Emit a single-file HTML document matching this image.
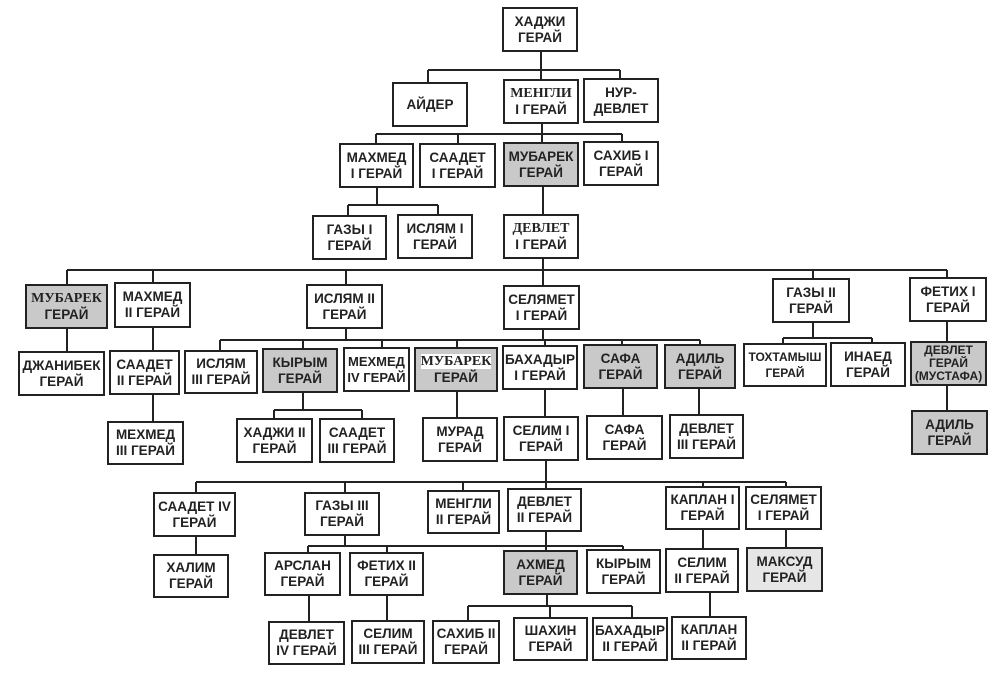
<!DOCTYPE html>
<html><head><meta charset="utf-8"><style>
body{margin:0;width:1000px;height:678px;background:#fff;position:relative;overflow:hidden;font-family:"Liberation Sans",sans-serif}
.b{position:absolute;box-sizing:border-box;border:2px solid #222;background:#fff;display:flex;align-items:center;justify-content:center;text-align:center;font-weight:bold;font-size:13.5px;line-height:16px;color:#222;white-space:nowrap}
.g{background:#c9c9c9}
.s{font-family:"Liberation Serif",serif;font-size:14px}
svg{position:absolute;left:0;top:0}
</style></head><body>
<svg width="1000" height="678" stroke="#222" stroke-width="2" fill="none">
<path d="M541 52V70M428 70H620M428 70V82M541 70V79M620 70V78"/>
<path d="M542 124V134M376 134H622M376 134V143M458 134V143M542 134V142M622 134V141"/>
<path d="M377 188V205M348 205H438M348 205V215M438 205V214M543 187V214"/>
<path d="M543 259V270M67 270H947M67 270V284M153 270V282M346 270V284M543 270V285M813 270V278M947 270V277"/>
<path d="M67 329V351M153 328V350M346 329V340M543 330V340M220 340H700M220 340V350M303 340V348M382 340V347M457 340V347M545 340V345M622 340V344M700 340V344"/>
<path d="M813 323V338M783 338H872M783 338V343M872 338V342M947 322V341"/>
<path d="M153 395V421M303 393V410M274 410H362M274 410V418M362 410V418M457 392V417M545 390V416M623 389V415M699 389V414M947 386V410"/>
<path d="M546 461V482M196 482H786M196 482V492M345 482V492M463 482V490M546 482V488M703 482V486M786 482V486"/>
<path d="M196 537V554M345 536V546M546 532V546M308 546H623M308 546V552M387 546V552M546 546V550M623 546V549M703 530V548M786 530V547"/>
<path d="M309 596V621M387 596V620M547 595V606M468 606H632M468 606V620M550 606V617M632 606V617M710 593V616"/>
</svg>
<div class="b" style="left:502px;top:7px;width:76px;height:45px">ХАДЖИ<br>ГЕРАЙ</div>
<div class="b" style="left:392px;top:82px;width:76px;height:45px">АЙДЕР</div>
<div class="b" style="left:503px;top:79px;width:76px;height:45px"><span><span class="s">МЕНГЛИ</span><br>I ГЕРАЙ</span></div>
<div class="b" style="left:583px;top:78px;width:76px;height:45px">НУР-<br>ДЕВЛЕТ</div>
<div class="b" style="left:339px;top:143px;width:75px;height:45px">МАХМЕД<br>I ГЕРАЙ</div>
<div class="b" style="left:419px;top:143px;width:77px;height:45px">СААДЕТ<br>I ГЕРАЙ</div>
<div class="b g" style="left:503px;top:142px;width:76px;height:45px">МУБАРЕК<br>ГЕРАЙ</div>
<div class="b" style="left:583px;top:141px;width:76px;height:45px">САХИБ I<br>ГЕРАЙ</div>
<div class="b" style="left:312px;top:215px;width:75px;height:45px">ГАЗЫ I<br>ГЕРАЙ</div>
<div class="b" style="left:397px;top:214px;width:76px;height:45px">ИСЛЯМ I<br>ГЕРАЙ</div>
<div class="b" style="left:503px;top:214px;width:76px;height:45px"><span><span class="s">ДЕВЛЕТ</span><br>I ГЕРАЙ</span></div>
<div class="b g" style="left:25px;top:284px;width:83px;height:45px"><span><span class="s">МУБАРЕК</span><br>ГЕРАЙ</span></div>
<div class="b" style="left:114px;top:282px;width:77px;height:46px">МАХМЕД<br>II ГЕРАЙ</div>
<div class="b" style="left:306px;top:284px;width:77px;height:45px">ИСЛЯМ II<br>ГЕРАЙ</div>
<div class="b" style="left:503px;top:285px;width:77px;height:45px">СЕЛЯМЕТ<br>I ГЕРАЙ</div>
<div class="b" style="left:772px;top:278px;width:78px;height:45px">ГАЗЫ II<br>ГЕРАЙ</div>
<div class="b" style="left:909px;top:277px;width:78px;height:45px">ФЕТИХ I<br>ГЕРАЙ</div>
<div class="b" style="left:18px;top:351px;width:87px;height:45px">ДЖАНИБЕК<br>ГЕРАЙ</div>
<div class="b" style="left:109px;top:350px;width:71px;height:45px">СААДЕТ<br>II ГЕРАЙ</div>
<div class="b" style="left:184px;top:350px;width:74px;height:44px">ИСЛЯМ<br>III ГЕРАЙ</div>
<div class="b g" style="left:262px;top:348px;width:76px;height:45px">КЫРЫМ<br>ГЕРАЙ</div>
<div class="b" style="left:343px;top:347px;width:67px;height:45px;font-size:13px">МЕХМЕД<br>IV ГЕРАЙ</div>
<div class="b g" style="left:414px;top:347px;width:84px;height:45px"><span><span class="s" style="background:#fff">МУБАРЕК</span><br>ГЕРАЙ</span></div>
<div class="b" style="left:502px;top:345px;width:76px;height:45px">БАХАДЫР<br>I ГЕРАЙ</div>
<div class="b g" style="left:583px;top:344px;width:75px;height:45px">САФА<br>ГЕРАЙ</div>
<div class="b g" style="left:664px;top:344px;width:72px;height:45px">АДИЛЬ<br>ГЕРАЙ</div>
<div class="b" style="left:743px;top:343px;width:84px;height:44px;font-size:12px">ТОХТАМЫШ<br>ГЕРАЙ</div>
<div class="b" style="left:830px;top:342px;width:76px;height:45px">ИНАЕД<br>ГЕРАЙ</div>
<div class="b g" style="left:910px;top:341px;width:77px;height:45px;font-size:12px;line-height:13px">ДЕВЛЕТ<br>ГЕРАЙ<br>(МУСТАФА)</div>
<div class="b" style="left:107px;top:421px;width:77px;height:44px">МЕХМЕД<br>III ГЕРАЙ</div>
<div class="b" style="left:236px;top:418px;width:77px;height:45px">ХАДЖИ II<br>ГЕРАЙ</div>
<div class="b" style="left:319px;top:418px;width:76px;height:45px">СААДЕТ<br>III ГЕРАЙ</div>
<div class="b" style="left:422px;top:417px;width:76px;height:45px">МУРАД<br>ГЕРАЙ</div>
<div class="b" style="left:503px;top:416px;width:76px;height:45px">СЕЛИМ I<br>ГЕРАЙ</div>
<div class="b" style="left:586px;top:415px;width:77px;height:45px">САФА<br>ГЕРАЙ</div>
<div class="b" style="left:669px;top:414px;width:75px;height:45px">ДЕВЛЕТ<br>III ГЕРАЙ</div>
<div class="b g" style="left:911px;top:410px;width:77px;height:45px">АДИЛЬ<br>ГЕРАЙ</div>
<div class="b" style="left:153px;top:492px;width:83px;height:45px">СААДЕТ IV<br>ГЕРАЙ</div>
<div class="b" style="left:304px;top:492px;width:76px;height:44px">ГАЗЫ III<br>ГЕРАЙ</div>
<div class="b" style="left:427px;top:490px;width:73px;height:44px">МЕНГЛИ<br>II ГЕРАЙ</div>
<div class="b" style="left:507px;top:488px;width:75px;height:44px">ДЕВЛЕТ<br>II ГЕРАЙ</div>
<div class="b" style="left:665px;top:486px;width:75px;height:44px">КАПЛАН I<br>ГЕРАЙ</div>
<div class="b" style="left:745px;top:486px;width:77px;height:44px">СЕЛЯМЕТ<br>I ГЕРАЙ</div>
<div class="b" style="left:153px;top:554px;width:76px;height:44px">ХАЛИМ<br>ГЕРАЙ</div>
<div class="b" style="left:264px;top:552px;width:77px;height:44px">АРСЛАН<br>ГЕРАЙ</div>
<div class="b" style="left:349px;top:552px;width:75px;height:44px">ФЕТИХ II<br>ГЕРАЙ</div>
<div class="b g" style="left:503px;top:550px;width:75px;height:45px">АХМЕД<br>ГЕРАЙ</div>
<div class="b" style="left:586px;top:549px;width:75px;height:45px">КЫРЫМ<br>ГЕРАЙ</div>
<div class="b" style="left:665px;top:548px;width:74px;height:45px">СЕЛИМ<br>II ГЕРАЙ</div>
<div class="b" style="left:746px;top:547px;width:77px;height:45px;background:#e6e6e6">МАКСУД<br>ГЕРАЙ</div>
<div class="b" style="left:268px;top:621px;width:77px;height:44px">ДЕВЛЕТ<br>IV ГЕРАЙ</div>
<div class="b" style="left:351px;top:620px;width:74px;height:44px">СЕЛИМ<br>III ГЕРАЙ</div>
<div class="b" style="left:432px;top:620px;width:68px;height:44px">САХИБ II<br>ГЕРАЙ</div>
<div class="b" style="left:513px;top:617px;width:75px;height:44px">ШАХИН<br>ГЕРАЙ</div>
<div class="b" style="left:592px;top:617px;width:76px;height:44px">БАХАДЫР<br>II ГЕРАЙ</div>
<div class="b" style="left:671px;top:616px;width:76px;height:44px">КАПЛАН<br>II ГЕРАЙ</div>
</body></html>
